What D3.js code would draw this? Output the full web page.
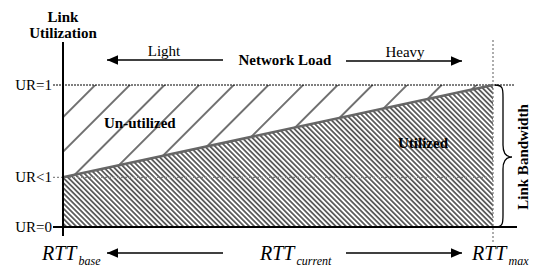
<!DOCTYPE html>
<html><head><meta charset="utf-8">
<script src="https://cdn.jsdelivr.net/npm/d3@7"></script>
<style>body{margin:0;background:#fff}svg{display:block}</style>
</head><body><svg id="c" width="541" height="268" font-family="Liberation Serif, Times New Roman, serif"></svg>
<script>
const rttDomain = [0, 1];              // RTT_base .. RTT_max
const utilRtt = [0, 1];
const utilValues = [0.35, 1];          // UR at RTT_base, RTT_max
const tickValues = [0, 0.35, 1];
const tickLabels = ["UR=0", "UR<1", "UR=1"];
const topLabels = ["Light", "Network Load", "Heavy"];
const bottomMain = ["RTT", "RTT", "RTT"];
const bottomSubs = ["base", "current", "max"];
const regionLabels = ["Un-utilized", "Utilized"];
const axisTitle = ["Link", "Utilization"];
const sideTitle = "Link Bandwidth";

const FONT = "Liberation Serif";
const svg = d3.select("#c");
const x = d3.scaleLinear().domain(rttDomain).range([63, 493]);
const y = d3.scaleLinear().domain([0, 1]).range([227, 85]);

const defs = svg.append("defs");
const dw = 3.6;
const pd = defs.append("pattern").attr("id","dense").attr("patternUnits","userSpaceOnUse")
  .attr("width", dw).attr("height", dw).attr("patternTransform","rotate(-45)");
pd.append("line").attr("x1", dw/2).attr("x2", dw/2).attr("y1", -1).attr("y2", dw+1)
  .attr("stroke","#000").attr("stroke-width",1.15);
const sw = 24.5;
const ps = defs.append("pattern").attr("id","sparse").attr("patternUnits","userSpaceOnUse")
  .attr("width", sw).attr("height", sw).attr("patternTransform","rotate(45)");
ps.append("line").attr("x1", 4.9).attr("x2", 4.9).attr("y1", -1).attr("y2", sw+1)
  .attr("stroke","#000").attr("stroke-width",1.1);

// regions
const pts = utilRtt.map((r,i)=>[x(r), y(utilValues[i])]);
const utilArea = d3.area().x(d=>d[0]).y0(y(0)).y1(d=>d[1]);
svg.append("path").attr("d", utilArea(pts)).attr("fill","url(#dense)");
const unArea = d3.area().x(d=>d[0]).y0(y(1)).y1(d=>d[1]);
svg.append("path").attr("d", unArea(pts)).attr("fill","url(#sparse)");

// guide lines
svg.append("line").attr("x1",53).attr("x2",514).attr("y1",y(1)).attr("y2",y(1))
  .attr("stroke","#000").attr("stroke-width",1).attr("stroke-dasharray","2,1");
svg.append("line").attr("x1",53).attr("x2",x(1)).attr("y1",y(tickValues[1])).attr("y2",y(tickValues[1]))
  .attr("stroke","#888").attr("stroke-width",1.2).attr("stroke-dasharray","2,2");
svg.append("line").attr("x1",x(1)).attr("x2",x(1)).attr("y1",40).attr("y2",242)
  .attr("stroke","#777").attr("stroke-width",1.2).attr("stroke-dasharray","2,2");

// utilization line
svg.append("path").attr("d", d3.line()(pts)).attr("stroke","#666").attr("stroke-width",2.5).attr("fill","none");

// axes
svg.append("line").attr("x1",53).attr("x2",517).attr("y1",y(0)).attr("y2",y(0)).attr("stroke","#000").attr("stroke-width",2);
svg.append("line").attr("x1",x(0)).attr("x2",x(0)).attr("y1",42).attr("y2",236).attr("stroke","#000").attr("stroke-width",2);

function txt(){ return svg.append("text").attr("font-family", FONT); }

// tick labels
tickValues.forEach((d,i)=>{
  txt().attr("x",52).attr("y",y(d)+5).attr("text-anchor","end").attr("font-size",15).text(tickLabels[i]);
});

// axis title
axisTitle.forEach((d,i)=>{
  txt().attr("x",x(0)).attr("y",22+i*16).attr("text-anchor","middle")
    .attr("font-size",15).attr("font-weight","bold").text(d);
});

// arrows helper
function arrow(x1, x2, yy){
  svg.append("line").attr("x1",x1).attr("x2",x2).attr("y1",yy).attr("y2",yy).attr("stroke","#000").attr("stroke-width",1.6);
  const dir = x2 > x1 ? 1 : -1;
  svg.append("path").attr("d",`M${x2},${yy} L${x2-dir*11},${yy-4.8} L${x2-dir*11},${yy+4.8} Z`).attr("fill","#000");
}
arrow(223, 107, 60);
arrow(346, 462, 61);
arrow(223, 107, 253);
arrow(346, 462, 253);

// top labels
txt().attr("x",164).attr("y",56).attr("text-anchor","middle").attr("font-size",15).text(topLabels[0]);
txt().attr("x",285).attr("y",65).attr("text-anchor","middle").attr("font-size",15).attr("font-weight","bold").text(topLabels[1]);
txt().attr("x",405).attr("y",57).attr("text-anchor","middle").attr("font-size",15).text(topLabels[2]);

// region labels
txt().attr("x",104).attr("y",128).attr("font-size",15).attr("font-weight","bold").text(regionLabels[0]);
txt().attr("x",398).attr("y",148).attr("font-size",15).attr("font-weight","bold").text(regionLabels[1]);

// bottom labels
const bx = [42, 260, 472];
bottomMain.forEach((m,i)=>{
  const t = txt().attr("x",bx[i]).attr("y",260).attr("font-size",20).attr("font-style","italic");
  t.append("tspan").text(m);
  t.append("tspan").attr("font-size",12).attr("dx",2).attr("dy",5).text(bottomSubs[i]);
});

// brace
const yt = y(1), yb = y(0), ym = (yt+yb)/2 + 1;
svg.append("path").attr("d",
  `M495,${yt} C503,${yt} 503,${yt+4} 503,${yt+12} L503,${ym-12} C503,${ym-4} 506,${ym} 512,${ym} C506,${ym} 503,${ym+4} 503,${ym+12} L503,${yb-12} C503,${yb-4} 503,${yb} 495,${yb}`)
  .attr("fill","none").attr("stroke","#000").attr("stroke-width",1.3);
txt().attr("transform",`translate(528,${ym}) rotate(-90)`).attr("text-anchor","middle")
  .attr("font-size",15).attr("font-weight","bold").text(sideTitle);
</script></body></html>
